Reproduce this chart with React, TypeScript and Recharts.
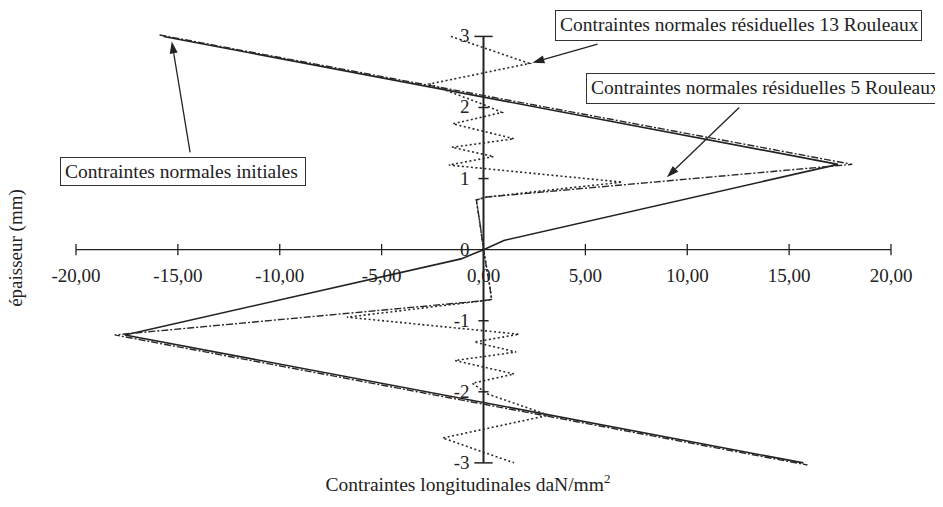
import React from 'react';
import { LineChart, Line, XAxis, YAxis, ReferenceLine, ReferenceDot } from 'recharts';

// Contraintes normales initiales (trait plein)
const initX = [-15.7, 17.4, 1.0, 0, -1.1, -17.6, 15.7];
const initY = [3.0, 1.2, 0.13, 0, -0.13, -1.2, -3.0];

// Contraintes normales résiduelles 5 Rouleaux (trait mixte)
const r5X = [-15.9, 18.1, 0.15, -0.35, -0.15, 0, 0.3, 0.4, -0.05, -18.1, 15.9];
const r5Y = [3.02, 1.2, 0.74, 0.7, 0.32, 0, -0.5, -0.7, -0.72, -1.2, -3.03];

// Contraintes normales résiduelles 13 Rouleaux (pointillés)
const r13X = [
  -1.6, 2.25, -2.65, 0.1, 0.9, -1.5, 1.5, -1.55, 0.5, -1.7, 6.8, 0.15, -0.35, -0.15, 0,
  0.3, 0.4, -0.05, -6.7, 1.75, -0.45, 1.6, -1.4, 1.5, -0.55, 0.2, 3.2, -2.0, 1.5,
];
const r13Y = [
  3.0, 2.62, 2.33, 2.03, 1.93, 1.77, 1.56, 1.44, 1.31, 1.19, 0.95, 0.74, 0.7, 0.32, 0,
  -0.5, -0.7, -0.72, -0.95, -1.19, -1.3, -1.44, -1.56, -1.75, -1.88, -2.03, -2.33, -2.65, -3.0,
];

const xTicks = [-20, -15, -10, -5, 0, 5, 10, 15, 20];
const xTickLabels = ['-20,00', '-15,00', '-10,00', '-5,00', '0,00', '5,00', '10,00', '15,00', '20,00'];
const yTicks = [-3, -2, -1, 0, 1, 2, 3];
const yTickLabels = ['-3', '-2', '-1', '0', '1', '2', '3'];

const toPoints = (xs: number[], ys: number[]) => xs.map((x, i) => ({ x, y: ys[i] }));

const INK = '#222';
const FONT = '"Liberation Serif", "DejaVu Serif", serif';

// flèche d'annotation dessinée sur un segment de ReferenceLine
const Arrow = (p: any) => {
  const { x1, y1, x2, y2 } = p;
  const a = Math.atan2(y2 - y1, x2 - x1);
  const L = 12;
  const W = 4;
  const bx = x2 - L * Math.cos(a);
  const by = y2 - L * Math.sin(a);
  const pts = `${x2},${y2} ${bx + W * Math.sin(a)},${by - W * Math.cos(a)} ${bx - W * Math.sin(a)},${by + W * Math.cos(a)}`;
  return (
    <g>
      <line x1={x1} y1={y1} x2={bx} y2={by} stroke={INK} strokeWidth={1.3} />
      <polygon points={pts} fill={INK} />
    </g>
  );
};

const boxStyle: React.CSSProperties = {
  position: 'absolute',
  border: '1px solid #333',
  fontSize: 19.5,
  lineHeight: '28px',
  paddingLeft: 4,
  whiteSpace: 'nowrap',
  boxSizing: 'border-box',
  background: '#fff',
};

export default function App() {
  return (
    <div
      style={{
        position: 'relative',
        width: 943,
        height: 507,
        margin: -8,
        overflow: 'hidden',
        fontFamily: FONT,
        color: INK,
      }}
    >
      <LineChart width={943} height={507} margin={{ top: 35, right: 52, bottom: 42, left: 76 }}>
        <XAxis type="number" dataKey="x" domain={[-20, 20]} hide />
        <YAxis type="number" dataKey="y" domain={[-3, 3]} hide />

        {/* axes croisés à l'origine */}
        <ReferenceLine segment={[{ x: -20, y: 0 }, { x: 20, y: 0 }]} stroke={INK} strokeWidth={1.4} />
        <ReferenceLine segment={[{ x: 0, y: -3 }, { x: 0, y: 3 }]} stroke={INK} strokeWidth={2} />
        {xTicks.map((v) => (
          <ReferenceLine key={'xt' + v} segment={[{ x: v, y: -0.08 }, { x: v, y: 0.08 }]} stroke={INK} strokeWidth={1.3} />
        ))}
        {yTicks.filter((v) => v !== 0).map((v) => {
          const w = Math.abs(v) === 3 ? 0.45 : 0.25;
          return (
            <ReferenceLine key={'yt' + v} segment={[{ x: -w, y: v }, { x: w, y: v }]} stroke={INK} strokeWidth={1.5} />
          );
        })}
        {xTicks.map((v, i) => (
          <ReferenceDot
            key={'xl' + v}
            x={v}
            y={0}
            r={0}
            shape={(p: any) => (
              <text x={p.cx} y={p.cy + 32} textAnchor="middle" fontSize={19} fontFamily={FONT} fill={INK}>
                {xTickLabels[i]}
              </text>
            )}
          />
        ))}
        {yTicks.map((v, i) => (
          <ReferenceDot
            key={'yl' + v}
            x={0}
            y={v}
            r={0}
            shape={(p: any) => (
              <text x={p.cx - 14} y={p.cy + 6} textAnchor="end" fontSize={19} fontFamily={FONT} fill={INK}>
                {yTickLabels[i]}
              </text>
            )}
          />
        ))}

        <Line data={toPoints(initX, initY)} dataKey="y" stroke={INK} strokeWidth={1.6} dot={false} isAnimationActive={false} />
        <Line data={toPoints(r5X, r5Y)} dataKey="y" stroke="#2a2a2a" strokeWidth={1.4} strokeDasharray="7 2 2 2" dot={false} isAnimationActive={false} />
        <Line data={toPoints(r13X, r13Y)} dataKey="y" stroke="#2a2a2a" strokeWidth={1.6} strokeDasharray="2 2.5" dot={false} isAnimationActive={false} />

        {/* flèches des étiquettes */}
        <ReferenceLine segment={[{ x: 5.6, y: 2.89 }, { x: 2.4, y: 2.63 }]} shape={Arrow} ifOverflow="visible" />
        <ReferenceLine segment={[{ x: 12.55, y: 2.0 }, { x: 9.0, y: 1.02 }]} shape={Arrow} ifOverflow="visible" />
        <ReferenceLine segment={[{ x: -14.4, y: 1.37 }, { x: -15.3, y: 2.93 }]} shape={Arrow} ifOverflow="visible" />
      </LineChart>

      <div style={{ ...boxStyle, left: 555, top: 10, width: 367, height: 31 }}>
        Contraintes normales résiduelles 13 Rouleaux
      </div>
      <div style={{ ...boxStyle, left: 586, top: 73, width: 370, height: 31 }}>
        Contraintes normales résiduelles 5 Rouleaux
      </div>
      <div style={{ ...boxStyle, left: 60, top: 157, width: 246, height: 29 }}>
        Contraintes normales initiales
      </div>

      <div
        style={{
          position: 'absolute',
          left: 16,
          top: 248,
          fontSize: 19,
          whiteSpace: 'nowrap',
          transform: 'translate(-50%, -50%) rotate(-90deg)',
        }}
      >
        épaisseur (mm)
      </div>
      <div style={{ position: 'absolute', left: 268, top: 471, width: 400, textAlign: 'center', fontSize: 19.5 }}>
        Contraintes longitudinales daN/mm<sup style={{ fontSize: 13 }}>2</sup>
      </div>
    </div>
  );
}
